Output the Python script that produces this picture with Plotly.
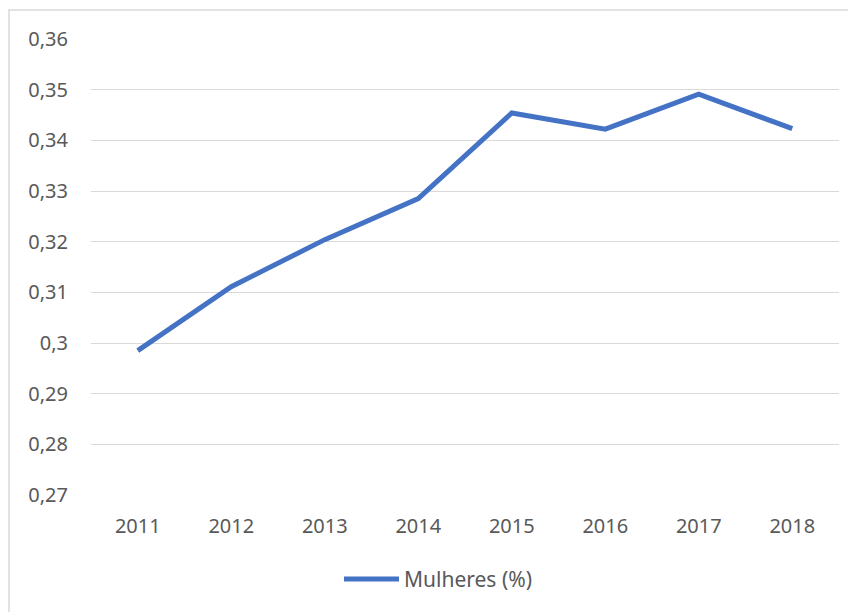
import plotly.graph_objects as go

years = ["2011", "2012", "2013", "2014", "2015", "2016", "2017", "2018"]
mulheres = [0.2985, 0.3111, 0.3204, 0.3285, 0.3454, 0.3422, 0.3491, 0.3423]
y_ticks = [0.27, 0.28, 0.29, 0.30, 0.31, 0.32, 0.33, 0.34, 0.35, 0.36]
y_tick_labels = ["0,27", "0,28", "0,29", "0,3", "0,31", "0,32", "0,33", "0,34", "0,35", "0,36"]

# page has an 8px body margin, so the figure is offset by 8px
OFF = 8
W, H = 856 - OFF, 612 - OFF
L, T = 91 - OFF, 39 - OFF
pw, ph = 748, 455.7
R = W - L - pw
B = H - T - ph

fig = go.Figure()
fig.add_trace(go.Scatter(
    x=years, y=mulheres, mode="lines", name="Mulheres (%)",
    line=dict(color="#4472C4", width=5),
))

fig.update_layout(
    width=W, height=H,
    margin=dict(l=L, r=R, t=T, b=B, autoexpand=False),
    paper_bgcolor="white", plot_bgcolor="white",
    font=dict(family="Noto Sans", color="#595959", size=20),
    showlegend=True,
    legend=dict(orientation="h", x=0.5 - 27 / pw, xanchor="center", y=-0.185, yanchor="middle",
                font=dict(size=21, color="#595959"), itemwidth=55),
    xaxis=dict(type="category", range=[-0.5, 7.5], showgrid=False, showline=False,
               ticks="", ticklabelstandoff=17,
               tickfont=dict(size=20, color="#595959")),
    yaxis=dict(range=[0.27, 0.36], tickvals=y_ticks, ticktext=y_tick_labels,
               showgrid=True, gridcolor="#D9D9D9", gridwidth=1.4, zeroline=False,
               showline=False, ticks="", ticklabelstandoff=22,
               tickfont=dict(size=20, color="#595959")),
    shapes=[dict(type="rect", xref="paper", yref="paper",
                 x0=(9 - 91) / pw, x1=(856 + 10 - 91) / pw,
                 y0=-(612 + 10 - 494.7) / ph, y1=1 + (39 - 10) / ph,
                 line=dict(color="#D9D9D9", width=1.5), fillcolor="rgba(0,0,0,0)",
                 layer="below")],
)

fig.write_html("out.html")
